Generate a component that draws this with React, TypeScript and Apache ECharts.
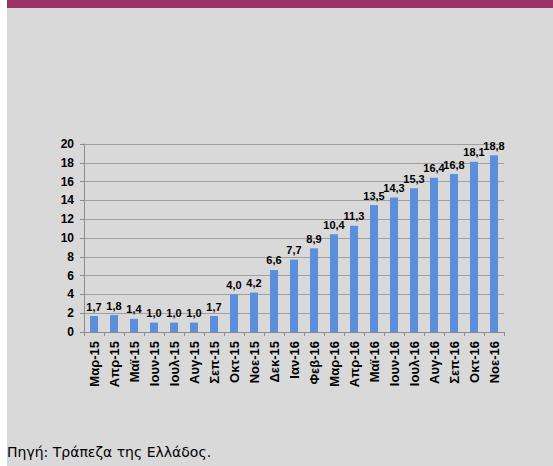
import React, { useEffect, useRef } from "react";
import * as echarts from "echarts";

const categories = [
  "Μαρ-15", "Απρ-15", "Μαϊ-15", "Ιουν-15", "Ιουλ-15", "Αυγ-15", "Σεπ-15",
  "Οκτ-15", "Νοε-15", "Δεκ-15", "Ιαν-16", "Φεβ-16", "Μαρ-16", "Απρ-16",
  "Μαϊ-16", "Ιουν-16", "Ιουλ-16", "Αυγ-16", "Σεπ-16", "Οκτ-16", "Νοε-16",
];
const values = [
  1.7, 1.8, 1.4, 1.0, 1.0, 1.0, 1.7, 4.0, 4.2, 6.6, 7.7, 8.9, 10.4, 11.3,
  13.5, 14.3, 15.3, 16.4, 16.8, 18.1, 18.8,
];
const yMin = 0;
const yMax = 20;
const yStep = 2;
const sourceText = "Πηγή: Τράπεζα της Ελλάδος.";

export default function App() {
  const ref = useRef<HTMLDivElement>(null);
  useEffect(() => {
    if (!ref.current) return;
    const chart = echarts.init(ref.current, undefined, { renderer: "svg" });
    const font = "'Liberation Sans', Arial, sans-serif";
    chart.setOption({
      animation: false,
      backgroundColor: "#ffffff",
      graphic: [
        { type: "rect", left: 7, top: 8, shape: { x: 0, y: 0, width: 546, height: 458 }, style: { fill: "#d9d9d9" }, z: -10 },
        { type: "rect", left: 7, top: 0, shape: { x: 0, y: 0, width: 546, height: 8 }, style: { fill: "#993366" }, z: -10 },
        {
          type: "text", left: 7, top: 445,
          style: { text: sourceText, fill: "#000", font: "14px 'DejaVu Sans', Tahoma, sans-serif" },
        },
      ],
      grid: { left: 84, right: 49, top: 144, bottom: 134, containLabel: false },
      xAxis: {
        type: "category",
        data: categories,
        axisLine: { lineStyle: { color: "#8c8c8c", width: 1 } },
        axisTick: { show: true, length: 4, lineStyle: { color: "#8c8c8c" } },
        axisLabel: {
          interval: 0, rotate: 90, margin: 9,
          color: "#000", fontWeight: "bold", fontSize: 13, fontFamily: font,
        },
      },
      yAxis: {
        type: "value",
        min: yMin, max: yMax, interval: yStep,
        axisLine: { show: true, lineStyle: { color: "#8c8c8c", width: 1 } },
        axisTick: { show: true, length: 4, lineStyle: { color: "#8c8c8c" } },
        splitLine: { show: true, lineStyle: { color: "#a0a0a0", width: 1 } },
        axisLabel: {
          margin: 10, color: "#000", fontWeight: "bold", fontSize: 12, fontFamily: font,
        },
      },
      series: [
        {
          type: "bar",
          data: values,
          barWidth: "40%",
          itemStyle: { color: "#5a8fdb" },
          label: {
            show: true, position: "top", distance: 4,
            color: "#000", fontWeight: "bold", fontSize: 11, fontFamily: font,
            formatter: (p: any) => Number(p.value).toFixed(1).replace(".", ","),
          },
        },
      ],
    });
    return () => chart.dispose();
  }, []);
  return (
    <div
      ref={ref}
      style={{ position: "fixed", left: 0, top: 0, width: 553, height: 466 }}
    />
  );
}
